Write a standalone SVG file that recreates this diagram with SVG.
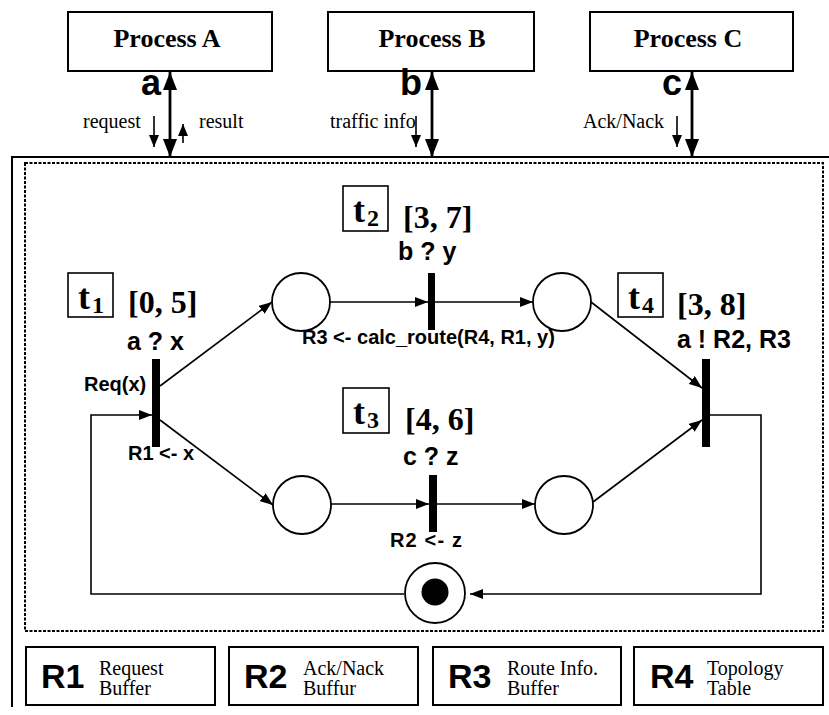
<svg xmlns="http://www.w3.org/2000/svg" width="829" height="715" viewBox="0 0 829 715">
<defs>
<marker id="arr" markerUnits="userSpaceOnUse" markerWidth="13" markerHeight="10" refX="13" refY="5" orient="auto-start-reverse"><path d="M0,0 L13,5 L0,10 Z" fill="#000"/></marker>
<marker id="big" markerUnits="userSpaceOnUse" markerWidth="18" markerHeight="14" refX="18" refY="7" orient="auto-start-reverse"><path d="M0,0 L18,7 L0,14 Z" fill="#000"/></marker>
<marker id="sm" markerUnits="userSpaceOnUse" markerWidth="12" markerHeight="10" refX="12" refY="5" orient="auto"><path d="M0,0 L12,5 L0,10 Z" fill="#000"/></marker>
</defs>
<style>
.box{fill:#fff;stroke:#000;stroke-width:2}
.place{fill:#fff;stroke:#000;stroke-width:1.8}
.bar{fill:#000}
.arc{fill:none;stroke:#000;stroke-width:1.6}
.chan{fill:none;stroke:#000;stroke-width:2.8}
.proc{font-family:"Liberation Serif",serif;font-weight:bold;font-size:26px;text-anchor:middle}
.ser{font-family:"Liberation Serif",serif;font-size:20px}
.ch{font-family:"Liberation Sans",sans-serif;font-weight:bold;font-size:36px}
.tl{font-family:"Liberation Serif",serif;font-weight:bold;font-size:36px}
.ts{font-family:"Liberation Serif",serif;font-weight:bold;font-size:24px}
.iv{font-family:"Liberation Serif",serif;font-weight:bold;font-size:32px}
.gd{font-family:"Liberation Sans",sans-serif;font-weight:bold;font-size:25px}
.ac{font-family:"Liberation Sans",sans-serif;font-weight:bold;font-size:20px}
.rn{font-family:"Liberation Sans",sans-serif;font-weight:bold;font-size:34px}
</style>

<!-- frames -->
<path d="M12,707 L12,157 L829,157" fill="none" stroke="#000" stroke-width="2"/>
<rect x="25" y="163" width="798" height="468" fill="none" stroke="#000" stroke-width="2" stroke-dasharray="3,1.5"/>

<!-- processes -->
<g id="processA"><rect class="box" x="68" y="12" width="204" height="59"/><text class="proc" x="167" y="47">Process A</text></g>
<g id="processB"><rect class="box" x="328" y="12" width="206" height="59"/><text class="proc" x="432" y="47">Process B</text></g>
<g id="processC"><rect class="box" x="590" y="12" width="203" height="59"/><text class="proc" x="688" y="47">Process C</text></g>

<!-- places -->
<g id="p1"><circle class="place" cx="301" cy="302" r="29"/></g>
<g id="p2"><circle class="place" cx="562" cy="302" r="29"/></g>
<g id="p3"><circle class="place" cx="302" cy="505" r="29"/></g>
<g id="p4"><circle class="place" cx="564" cy="505" r="29"/></g>
<g id="p0"><circle class="place" cx="435" cy="593" r="30"/><circle cx="435" cy="592" r="13.5" fill="#000"/></g>

<!-- transitions -->
<g id="t1">
<rect class="bar" x="152" y="359" width="8" height="88"/>
<rect x="68" y="273" width="45" height="44" fill="none" stroke="#000" stroke-width="1.6"/>
<text class="tl" x="78" y="309">t</text><text class="ts" x="92" y="313">1</text>
<text class="iv" x="128" y="313">[0, 5]</text>
<text class="gd" x="127" y="350">a ? x</text>
<text class="ac" x="84" y="391">Req(x)</text>
<text class="ac" x="128" y="460">R1 &lt;- x</text>
</g>
<g id="t2">
<rect class="bar" x="428" y="273" width="7" height="57"/>
<rect x="343" y="186" width="45" height="45" fill="none" stroke="#000" stroke-width="1.6"/>
<text class="tl" x="353" y="222">t</text><text class="ts" x="367" y="226">2</text>
<text class="iv" x="403" y="228">[3, 7]</text>
<text class="gd" x="398" y="260">b ? y</text>
<text class="ac" x="302" y="344">R3 &lt;- calc_route(R4, R1, y)</text>
</g>
<g id="t3">
<rect class="bar" x="429" y="475" width="8" height="57"/>
<rect x="343" y="388" width="46" height="45" fill="none" stroke="#000" stroke-width="1.6"/>
<text class="tl" x="353" y="424">t</text><text class="ts" x="367" y="428">3</text>
<text class="iv" x="405" y="430">[4, 6]</text>
<text class="gd" x="403" y="465">c ? z</text>
<text class="ac" x="390" y="547" textLength="72">R2 &lt;- z</text>
</g>
<g id="t4">
<rect class="bar" x="702" y="359" width="8" height="88"/>
<rect x="618" y="273" width="45" height="44" fill="none" stroke="#000" stroke-width="1.6"/>
<text class="tl" x="628" y="309">t</text><text class="ts" x="642" y="313">4</text>
<text class="iv" x="677" y="315">[3, 8]</text>
<text class="gd" x="677" y="348">a ! R2, R3</text>
</g>

<!-- registers -->
<g id="R1"><rect class="box" x="26" y="647" width="189" height="58"/><text class="rn" x="41" y="688">R1</text><text class="ser" x="99" y="675">Request</text><text class="ser" x="99" y="695">Buffer</text></g>
<g id="R2"><rect class="box" x="229" y="647" width="189" height="58"/><text class="rn" x="244" y="688">R2</text><text class="ser" x="303" y="675">Ack/Nack</text><text class="ser" x="303" y="695">Buffur</text></g>
<g id="R3"><rect class="box" x="433" y="647" width="188" height="58"/><text class="rn" x="448" y="688">R3</text><text class="ser" x="507" y="675">Route Info.</text><text class="ser" x="507" y="695">Buffer</text></g>
<g id="R4"><rect class="box" x="634" y="647" width="189" height="58"/><text class="rn" x="650" y="688">R4</text><text class="ser" x="707" y="675">Topology</text><text class="ser" x="707" y="695">Table</text></g>

<!-- connectors -->
<g id="connectors">
<line class="chan" x1="170" y1="72" x2="170" y2="157" marker-start="url(#big)" marker-end="url(#big)"/>
<line class="chan" x1="432" y1="72" x2="432" y2="157" marker-start="url(#big)" marker-end="url(#big)"/>
<line class="chan" x1="692" y1="72" x2="692" y2="157" marker-start="url(#big)" marker-end="url(#big)"/>
<line class="arc" x1="154" y1="116" x2="154" y2="147" marker-end="url(#sm)"/>
<line class="arc" x1="183" y1="143" x2="183" y2="124" marker-end="url(#sm)"/>
<line class="arc" x1="416" y1="116" x2="416" y2="147" marker-end="url(#sm)"/>
<line class="arc" x1="677" y1="116" x2="677" y2="147" marker-end="url(#sm)"/>
<line class="arc" x1="160" y1="386" x2="272" y2="302" marker-end="url(#arr)"/>
<line class="arc" x1="160" y1="420" x2="273" y2="505" marker-end="url(#arr)"/>
<line class="arc" x1="330" y1="302" x2="428" y2="302" marker-end="url(#arr)"/>
<line class="arc" x1="435" y1="302" x2="533" y2="302" marker-end="url(#arr)"/>
<line class="arc" x1="331" y1="504" x2="429" y2="504" marker-end="url(#arr)"/>
<line class="arc" x1="437" y1="504" x2="535" y2="504" marker-end="url(#arr)"/>
<line class="arc" x1="591" y1="302" x2="702" y2="388" marker-end="url(#arr)"/>
<line class="arc" x1="593" y1="502" x2="702" y2="420" marker-end="url(#arr)"/>
<polyline class="arc" points="710,415 761,415 761,594 470,594" marker-end="url(#arr)"/>
<polyline class="arc" points="404,594 91,594 91,415 152,415" marker-end="url(#arr)"/>
</g>

<!-- channel labels -->
<text class="ch" x="141" y="95">a</text>
<text class="ch" x="400" y="95">b</text>
<text class="ch" x="662" y="95">c</text>
<text class="ser" x="83" y="128">request</text>
<text class="ser" x="199" y="128">result</text>
<text class="ser" x="330" y="128">traffic info</text>
<text class="ser" x="583" y="128">Ack/Nack</text>
</svg>
